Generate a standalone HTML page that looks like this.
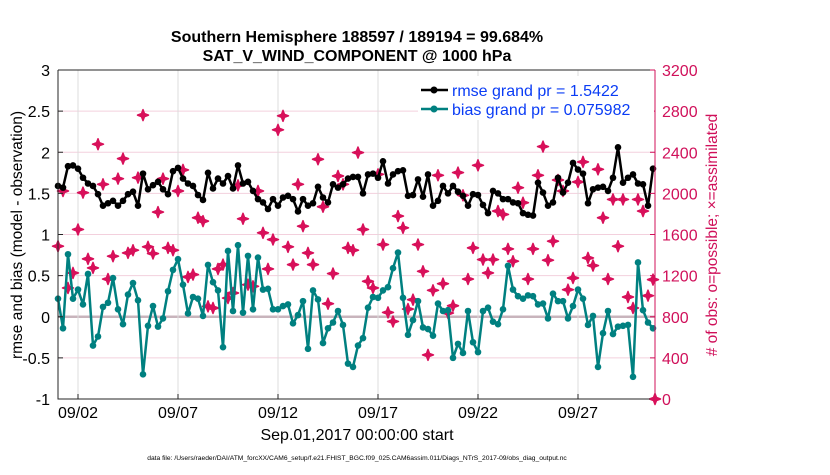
<!DOCTYPE html>
<html><head><meta charset="utf-8"><style>
body{margin:0;background:#fff;width:830px;height:470px;overflow:hidden}
text{font-family:"Liberation Sans",sans-serif}
</style></head><body>
<svg id="chart" width="830" height="470" xmlns="http://www.w3.org/2000/svg">
<rect width="830" height="470" fill="#fff"/>
<text x="357" y="42" font-size="16" font-weight="bold" text-anchor="middle">Southern Hemisphere 188597 / 189194 = 99.684%</text>
<text x="357" y="61" font-size="16" font-weight="bold" text-anchor="middle">SAT_V_WIND_COMPONENT @ 1000 hPa</text>
<g id="grid"></g>
<g id="marks"></g>
<g id="axes"></g>
<text transform="translate(22,235) rotate(-90)" font-size="15.5" text-anchor="middle">rmse and bias (model - observation)</text>
<text transform="translate(717,235) rotate(-90)" font-size="15.5" fill="#d0105a" text-anchor="middle"># of obs: o=possible; ×=assimilated</text>
<text x="357" y="440" font-size="16" text-anchor="middle">Sep.01,2017 00:00:00 start</text>
<text x="357" y="460" font-size="6.7" text-anchor="middle">data file: /Users/raeder/DAI/ATM_forcXX/CAM6_setup/f.e21.FHIST_BGC.f09_025.CAM6assim.011/Diags_NTrS_2017-09/obs_diag_output.nc</text>
<g id="legend">
<rect x="418" y="76" width="236" height="44" fill="#fff"/>
<line x1="421" y1="90" x2="448" y2="90" stroke="#000" stroke-width="2.5"/><circle cx="434" cy="90" r="3.5" fill="#000"/>
<text x="452" y="96" font-size="16" fill="#0a3cf5">rmse grand pr = 1.5422</text>
<line x1="421" y1="109" x2="448" y2="109" stroke="#008080" stroke-width="2.5"/><circle cx="434" cy="109" r="3.5" fill="#008080"/>
<text x="452" y="115" font-size="16" fill="#0a3cf5">bias grand pr = 0.075982</text>
</g>
</svg>
<script>
const rmse=[1.59,1.57,1.83,1.84,1.80,1.69,1.62,1.59,1.49,1.35,1.38,1.41,1.35,1.41,1.49,1.52,1.35,1.74,1.55,1.60,1.64,1.55,1.49,1.77,1.81,1.68,1.62,1.59,1.48,1.42,1.75,1.56,1.68,1.62,1.71,1.56,1.84,1.62,1.64,1.53,1.43,
1.39,1.31,1.43,1.35,1.45,1.47,1.43,1.28,1.43,1.35,1.38,1.58,1.45,1.39,1.61,1.57,1.61,1.68,1.70,1.70,1.50,1.73,1.74,1.69,1.89,1.62,1.73,1.77,1.78,1.47,1.48,1.67,1.46,1.73,1.35,1.41,1.59,1.50,1.59,1.52,
1.47,1.35,1.49,1.48,1.36,1.26,1.53,1.50,1.43,1.43,1.39,1.38,1.26,1.24,1.23,1.63,1.51,1.35,1.39,1.69,1.51,1.63,1.87,1.79,1.74,1.38,1.55,1.57,1.58,1.53,1.69,2.06,1.63,1.69,1.73,1.62,1.61,1.35,1.80];
const bias=[0.22,-0.14,0.76,0.22,0.33,0.15,0.52,-0.35,-0.24,0.12,0.17,0.47,0.09,-0.09,0.27,0.41,0.20,-0.70,-0.11,0.13,-0.12,-0.02,0.31,0.57,0.70,0.39,0.04,0.24,0.22,0.01,0.63,0.42,0.32,-0.37,0.80,0.07,0.87,0.05,0.74,0.09,0.72,
0.33,0.34,0.09,0.09,0.13,0.15,-0.08,0.02,0.19,-0.39,0.32,0.21,-0.32,-0.14,-0.07,0.07,-0.10,-0.57,-0.61,-0.35,-0.26,0.11,0.24,0.23,0.32,0.36,0.59,0.78,0.23,-0.22,-0.04,0.19,-0.13,-0.15,-0.23,0.16,0.07,0.08,-0.50,-0.33,
-0.44,0.07,-0.31,-0.43,0.07,0.11,-0.06,-0.09,0.09,0.62,0.33,0.25,0.22,0.26,0.25,0.15,0.16,-0.02,0.28,0.19,0.19,-0.02,0.13,0.33,0.22,-0.10,0.01,-0.61,-0.20,0.07,-0.21,-0.12,-0.11,-0.10,-0.73,0.66,0.08,-0.07,-0.14];
const counts=[1486,2023,1080,1226,1649,2007,1363,1275,2478,2088,1167,1389,2143,2338,1421,1447,2153,2761,1480,1415,1818,2143,1470,1447,2023,2228,1187,1210,1763,1730,901,885,1265,1307,982,1031,2078,1753,1112,1096,2023,
1616,1265,1551,2618,2754,1480,1307,2088,1681,1421,1307,2332,1870,927,1220,2169,2088,1470,1447,2397,1649,1145,1080,2185,1502,842,754,1779,1665,875,966,1502,1242,429,1057,2176,1122,836,907,2202,
1981,1167,1470,2273,1356,1226,1356,1828,1795,1460,1340,2055,1909,1167,1460,2176,2455,1350,1535,2130,2023,1063,1177,2111,2306,1372,1298,2234,1763,1167,1941,1486,1941,992,885,1941,1828,1005,1161,0];
const xTickDays=[1,6,11,16,21,26];
const xTickLabels=["09/02","09/07","09/12","09/17","09/22","09/27"];
const yLeftTicks=[-1,-0.5,0,0.5,1,1.5,2,2.5,3];
const yRightTicks=[0,400,800,1200,1600,2000,2400,2800,3200];
const stepDays=0.25;

const L=58,R=655,T=70,B=399;
const xS=d=>L+(d-0)/(29.85-0)*(R-L);
const yS=v=>B-(v+1)/4*(B-T);
const yC=c=>B-c/3200*(B-T);
const NS='http://www.w3.org/2000/svg';
function mk(tag,attrs,parent){const e=document.createElementNS(NS,tag);for(const k in attrs)e.setAttribute(k,attrs[k]);parent.appendChild(e);return e;}
const grid=document.getElementById('grid'),marks=document.getElementById('marks'),axes=document.getElementById('axes');

yLeftTicks.forEach(v=>{
  if(v===-1||v===3)return;
  const g=mk('line',{x1:L,x2:R,y1:yS(v),y2:yS(v),stroke:v===0?'#c8b4bc':'#f3d0dd','stroke-width':v===0?2.5:1},grid);
  
  
});
xTickDays.forEach(d=>{
  const g=mk('line',{x1:xS(d),x2:xS(d),y1:T,y2:B,stroke:'#dcdcdc','stroke-width':1},grid);
  
  
});

counts.forEach((c,i)=>{
  const cx=Math.min(xS(i*stepDays),R), cy=yC(c);
  const p=mk('path',{d:`M${cx-5.5},${cy}L${cx-1.5},${cy-1.5}L${cx},${cy-5.5}L${cx+1.5},${cy-1.5}L${cx+5.5},${cy}L${cx+1.5},${cy+1.5}L${cx},${cy+5.5}L${cx-1.5},${cy+1.5}Z`,fill:'#d8105a',stroke:'#d8105a','stroke-width':1.5,'stroke-linejoin':'round'},marks);
  
  
});
function series(arr,color,name){
  const pts=arr.map((v,i)=>xS(i*stepDays).toFixed(1)+','+yS(v).toFixed(1)).join(' ');
  const pl=mk('polyline',{points:pts,fill:'none',stroke:color,'stroke-width':2.5,'stroke-linejoin':'round'},marks);
  
  
  arr.forEach((v,i)=>{
    const c=mk('circle',{cx:xS(i*stepDays),cy:yS(v),r:3.3,fill:color},marks);
    
    
  });
}
series(rmse,'#000','rmse');
series(bias,'#008080','bias');

const fr=mk('path',{d:`M${L},${T}L${L},${B}L${R},${B}M${L},${T}L${R},${T}`,stroke:'#262626','stroke-width':1,fill:'none'},axes);


const ra=mk('line',{x1:R,x2:R,y1:T,y2:B,stroke:'#d0105a','stroke-width':1},axes);


yLeftTicks.forEach(v=>{
  const t=mk('text',{x:L-8,y:yS(v)+6,'font-size':16,'text-anchor':'end'},axes);t.textContent=String(v);
  
  
  mk('line',{x1:L,x2:L+5,y1:yS(v),y2:yS(v),stroke:'#262626'},axes);
});
yRightTicks.forEach(v=>{
  const t=mk('text',{x:R+7,y:yC(v)+6,'font-size':16,fill:'#d0105a'},axes);t.textContent=String(v);
  
  
  mk('line',{x1:R-5,x2:R,y1:yC(v),y2:yC(v),stroke:'#d0105a'},axes);
});
xTickDays.forEach((d,i)=>{
  const t=mk('text',{x:xS(d),y:418,'font-size':16,'text-anchor':'middle'},axes);t.textContent=xTickLabels[i];
  
  
  mk('line',{x1:xS(d),x2:xS(d),y1:B,y2:B-5,stroke:'#262626'},axes);
});
</script>
</body></html>
